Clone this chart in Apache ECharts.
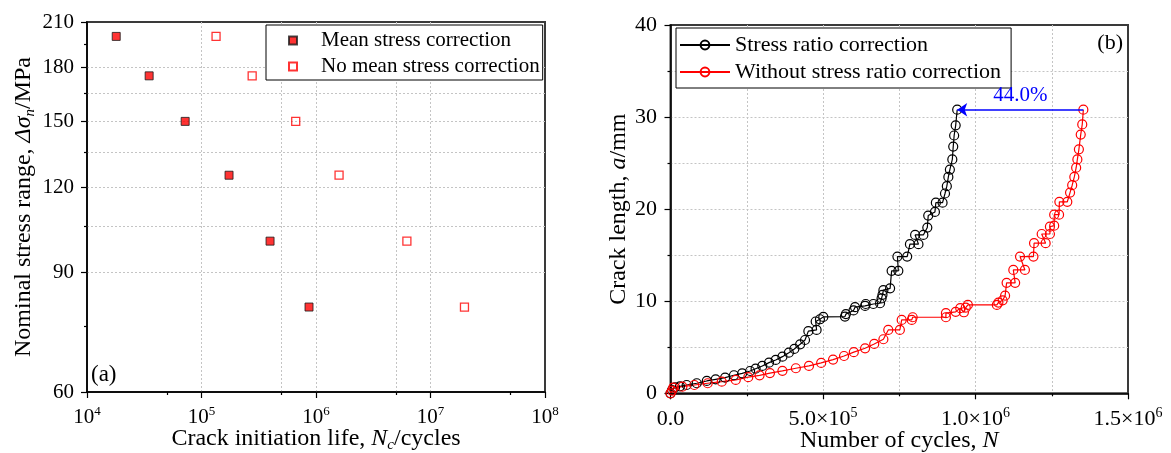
<!DOCTYPE html>
<html>
<head>
<meta charset="utf-8">
<script src="https://cdn.jsdelivr.net/npm/echarts@6/dist/echarts.min.js"></script>
<style>
  html, body { margin: 0; padding: 0; background: #fff; }
  #chart { width: 1171px; height: 453px; }
</style>
</head>
<body>
<div id="chart"></div>
<script>
const FONT = '"Liberation Serif", "Times New Roman", serif';

// (a) stress range vs. crack initiation life
const stressLevels = [200, 175, 150, 125, 100, 80];                       // MPa
const lifeMeanCorr = [1.80e4, 3.49e4, 7.2e4, 1.74e5, 3.97e5, 8.69e5];     // cycles
const lifeNoMeanCorr = [1.34e5, 2.77e5, 6.65e5, 1.59e6, 6.22e6, 1.98e7];  // cycles
const stressTicks = [60, 90, 120, 150, 180, 210];
const stressMinorTicks = [75, 105, 135, 165, 195];
const lifeDecades = [4, 5, 6, 7, 8];
const lifeMinorTicks = [5e4, 5e5, 5e6, 5e7];

// (b) crack length vs. number of cycles (cycles in millions, crack length in mm)
const cyclesRatio = [0, 0.005, 0.015, 0.031, 0.053, 0.086, 0.119, 0.148, 0.179, 0.208,
  0.235, 0.261, 0.279, 0.301, 0.323, 0.345, 0.367, 0.388, 0.406, 0.425,
  0.441, 0.452, 0.479, 0.476, 0.490, 0.501, 0.572, 0.575, 0.600, 0.605,
  0.638, 0.640, 0.665, 0.687, 0.692, 0.695, 0.698, 0.720, 0.725, 0.747,
  0.744, 0.776, 0.785, 0.813, 0.802, 0.829, 0.842, 0.845, 0.867, 0.870,
  0.892, 0.900, 0.906, 0.911, 0.916, 0.924, 0.927, 0.930, 0.935, 0.940];
const crackRatio = [0, 0.36, 0.65, 0.76, 0.90, 1.09, 1.34, 1.52, 1.70, 1.96,
  2.17, 2.42, 2.67, 2.97, 3.33, 3.62, 3.98, 4.41, 4.82, 5.32,
  5.79, 6.75, 6.88, 7.80, 8.04, 8.30, 8.33, 8.60, 9.00, 9.35,
  9.49, 9.70, 9.70, 9.78, 10.30, 10.70, 11.20, 11.40, 13.30, 13.30,
  14.85, 14.85, 16.20, 16.20, 17.20, 17.20, 18.00, 19.30, 19.70, 20.70,
  20.70, 21.70, 22.50, 23.50, 24.30, 25.40, 26.80, 28.00, 29.10, 30.80];
const cyclesNoRatio = [0, 0.005, 0.009, 0.039, 0.078, 0.122, 0.168, 0.214, 0.255, 0.292,
  0.326, 0.367, 0.411, 0.454, 0.494, 0.533, 0.569, 0.601, 0.638, 0.668,
  0.698, 0.714, 0.752, 0.758, 0.791, 0.794, 0.903, 0.903, 0.935, 0.950,
  0.962, 0.968, 0.975, 1.070, 1.075, 1.089, 1.097, 1.102, 1.130, 1.124,
  1.162, 1.146, 1.190, 1.192, 1.230, 1.217, 1.244, 1.244, 1.258, 1.258,
  1.274, 1.275, 1.301, 1.310, 1.317, 1.324, 1.330, 1.334, 1.339, 1.345,
  1.350, 1.3536];
const crackNoRatio = [0, 0.30, 0.61, 0.72, 0.90, 1.09, 1.26, 1.45, 1.75, 1.95,
  2.20, 2.44, 2.72, 2.97, 3.30, 3.66, 4.05, 4.47, 4.89, 5.36,
  5.87, 6.88, 6.88, 7.97, 7.97, 8.26, 8.26, 8.70, 8.85, 9.25,
  8.80, 9.30, 9.60, 9.60, 9.85, 10.10, 10.60, 12.00, 12.00, 13.40,
  13.40, 14.85, 14.85, 16.30, 16.30, 17.30, 17.30, 18.10, 18.20, 19.40,
  19.40, 20.80, 20.80, 21.80, 22.60, 23.50, 24.50, 25.40, 26.50, 28.10,
  29.20, 30.80];

const legendA = ['Mean stress correction', 'No mean stress correction'];
const legendB = ['Stress ratio correction', 'Without stress ratio correction'];

const lg = Math.log10;

function richSet(size) {
  const small = Math.round(size * 0.62);
  return {
    b: { fontFamily: FONT, fontSize: size, color: '#000', lineHeight: size + 4 },
    s: { fontFamily: FONT, fontSize: small, color: '#000', verticalAlign: 'top', lineHeight: small },
    i: { fontFamily: FONT, fontSize: size, fontStyle: 'italic', color: '#000', lineHeight: size + 4 },
    sub: { fontFamily: FONT, fontSize: small, fontStyle: 'italic', color: '#000', verticalAlign: 'bottom', lineHeight: small }
  };
}

const gridLine = {
  show: true, showMinLine: false, showMaxLine: false,
  lineStyle: { color: '#c4c4c4', width: 1, type: [2, 2] }
};
const axisLineStyle = { show: true, lineStyle: { color: '#000', width: 1.5 } };
const tickStyle = { lineStyle: { color: '#000', width: 1.2 } };

// tick label for 10^n
const powerLabel = v => '{b|10}{s|' + Math.round(v) + '}';
// tick label for m.m×10^n
function sciLabel(v) {
  if (v === 0) return '{b|0.0}';
  const e = Math.floor(lg(v) + 1e-9);
  const m = v / Math.pow(10, e);
  return '{b|' + m.toFixed(1) + '×10}{s|' + e + '}';
}

const lastBlack = cyclesRatio[cyclesRatio.length - 1] * 1e6;
const lastRed = cyclesNoRatio[cyclesNoRatio.length - 1] * 1e6;
const finalCrack = crackRatio[crackRatio.length - 1];
const lifeGain = ((lastRed - lastBlack) / lastBlack * 100).toFixed(1) + '%';

const option = {
  backgroundColor: '#fff',
  animation: false,
  textStyle: { fontFamily: FONT },
  grid: [
    { left: 87, top: 22, width: 458, height: 370, show: true, borderColor: '#3a3a3a', borderWidth: 2, outerBoundsMode: 'none' },
    { left: 670.5, top: 25, width: 457.5, height: 368.3, show: true, borderColor: '#3a3a3a', borderWidth: 2, outerBoundsMode: 'none' }
  ],
  legend: [
    {
      data: legendA, orient: 'vertical', left: 266, top: 25,
      itemWidth: 8, itemHeight: 8, itemGap: 5,
      padding: [5, 3, 3, 22],
      borderColor: '#000', borderWidth: 1, backgroundColor: '#fff',
      textStyle: { fontFamily: FONT, fontSize: 21, color: '#000', padding: [0, 0, 0, 19] }
    },
    {
      data: legendB, orient: 'vertical', left: 676, top: 28,
      itemWidth: 50, itemHeight: 11, itemGap: 5,
      padding: [6, 10, 5, 3],
      borderColor: '#000', borderWidth: 1, backgroundColor: '#fff',
      textStyle: { fontFamily: FONT, fontSize: 22, color: '#000' }
    }
  ],
  xAxis: [
    {
      gridIndex: 0, type: 'value', min: 4, max: 8,
      axisLine: axisLineStyle,
      axisTick: Object.assign({ customValues: lifeDecades, length: 6 }, tickStyle),
      axisLabel: { customValues: lifeDecades, formatter: powerLabel, margin: 13, rich: richSet(21) },
      splitLine: gridLine,
      name: '{b|Crack initiation life, }{i|N}{sub|c}{b|/cycles}',
      nameLocation: 'middle', nameGap: 33, nameMoveOverlap: false,
      nameTextStyle: { rich: richSet(24) }
    },
    {
      gridIndex: 0, type: 'value', min: 4, max: 8, position: 'bottom',
      axisLine: { show: false },
      axisTick: Object.assign({ customValues: lifeMinorTicks.map(lg), length: 3 }, tickStyle),
      axisLabel: { show: false },
      splitLine: gridLine
    },
    {
      gridIndex: 1, type: 'value', min: 0, max: 1.5e6, interval: 5e5,
      axisLine: axisLineStyle,
      axisTick: Object.assign({ length: 6 }, tickStyle),
      minorTick: { show: true, splitNumber: 2, length: 3, lineStyle: { color: '#000', width: 1.2 } },
      minorSplitLine: gridLine,
      axisLabel: { formatter: sciLabel, margin: 13, rich: richSet(22) },
      splitLine: gridLine,
      name: '{b|Number of cycles, }{i|N}',
      nameLocation: 'middle', nameGap: 33, nameMoveOverlap: false,
      nameTextStyle: { rich: richSet(24) }
    }
  ],
  yAxis: [
    {
      gridIndex: 0, type: 'value', min: lg(60), max: lg(210),
      axisLine: axisLineStyle,
      axisTick: Object.assign({ customValues: stressTicks.map(lg), length: 6 }, tickStyle),
      axisLabel: {
        customValues: stressTicks.map(lg), margin: 13,
        formatter: v => String(Math.round(Math.pow(10, v))),
        fontFamily: FONT, fontSize: 21, color: '#000'
      },
      splitLine: gridLine,
      name: '{b|Nominal stress range, }{i|Δσ}{sub|n}{b|/MPa}',
      nameLocation: 'middle', nameGap: 49, nameMoveOverlap: false,
      nameTextStyle: { rich: richSet(24) }
    },
    {
      gridIndex: 0, type: 'value', min: lg(60), max: lg(210), position: 'left',
      axisLine: { show: false },
      axisTick: Object.assign({ customValues: stressMinorTicks.map(lg), length: 3 }, tickStyle),
      axisLabel: { show: false },
      splitLine: gridLine
    },
    {
      gridIndex: 1, type: 'value', min: 0, max: 40, interval: 10,
      axisLine: axisLineStyle,
      axisTick: Object.assign({ length: 6 }, tickStyle),
      minorTick: { show: true, splitNumber: 2, length: 3, lineStyle: { color: '#000', width: 1.2 } },
      minorSplitLine: gridLine,
      axisLabel: { margin: 13.5, fontFamily: FONT, fontSize: 22, color: '#000' },
      splitLine: gridLine,
      name: '{b|Crack length, }{i|a}{b|/mm}',
      nameLocation: 'middle', nameGap: 38, nameMoveOverlap: false,
      nameTextStyle: { rich: richSet(24) }
    }
  ],
  series: [
    {
      name: legendA[0], type: 'scatter', xAxisIndex: 0, yAxisIndex: 0,
      symbol: 'rect', symbolSize: 8,
      itemStyle: { color: '#ff0000', borderColor: '#1a1a1a', borderWidth: 1 },
      data: lifeMeanCorr.map((n, i) => [lg(n), lg(stressLevels[i])])
    },
    {
      name: legendA[1], type: 'scatter', xAxisIndex: 0, yAxisIndex: 0,
      symbol: 'rect', symbolSize: 8,
      itemStyle: { color: 'rgba(255,255,255,0)', borderColor: '#ff0000', borderWidth: 1.3 },
      data: lifeNoMeanCorr.map((n, i) => [lg(n), lg(stressLevels[i])])
    },
    {
      name: legendB[0], type: 'line', xAxisIndex: 2, yAxisIndex: 2,
      symbol: 'circle', symbolSize: 9, showAllSymbol: true,
      lineStyle: { color: '#000', width: 1.2 },
      itemStyle: { color: 'rgba(255,255,255,0)', borderColor: '#000', borderWidth: 1.2 },
      data: cyclesRatio.map((n, i) => [n * 1e6, crackRatio[i]])
    },
    {
      name: legendB[1], type: 'line', xAxisIndex: 2, yAxisIndex: 2,
      symbol: 'circle', symbolSize: 9, showAllSymbol: true,
      lineStyle: { color: '#ff0000', width: 1.2 },
      itemStyle: { color: 'rgba(255,255,255,0)', borderColor: '#ff0000', borderWidth: 1.2 },
      data: cyclesNoRatio.map((n, i) => [n * 1e6, crackNoRatio[i]]),
      markLine: {
        silent: true, z: 10,
        symbol: ['none', 'arrow'], symbolSize: 10,
        lineStyle: { color: '#0000ff', width: 1.5, type: 'solid' },
        label: {
          show: true, position: 'middle', formatter: lifeGain,
          color: '#0000ff', fontFamily: FONT, fontSize: 21, distance: 4
        },
        data: [[{ coord: [lastRed, finalCrack] }, { coord: [lastBlack, finalCrack] }]]
      }
    }
  ],
  graphic: [
    { type: 'text', left: 91, top: 363, style: { text: '(a)', font: '23px ' + FONT, fill: '#000' } },
    { type: 'text', right: 48, top: 32, style: { text: '(b)', font: '22px ' + FONT, fill: '#000' } }
  ]
};

echarts.init(document.getElementById('chart')).setOption(option);
</script>
</body>
</html>
